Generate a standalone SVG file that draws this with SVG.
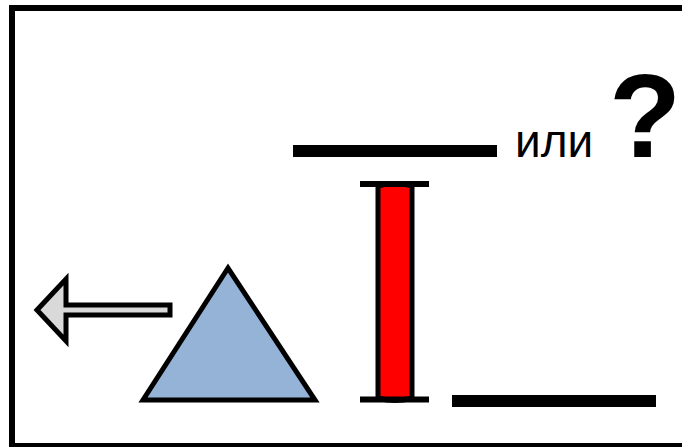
<svg xmlns="http://www.w3.org/2000/svg" width="682" height="447" viewBox="0 0 682 447">
<style>
.s{stroke:#000;stroke-width:5;stroke-linejoin:miter}
.t{font-family:"Liberation Sans",Arial,sans-serif;fill:#000}
</style>
<rect x="0" y="0" width="682" height="447" fill="#fff"/>
<g id="frame"><rect x="12" y="8" width="680" height="438" fill="none" stroke="#000" stroke-width="6"/></g>
<g id="arrow"><polygon class="s" fill="#d9d9d9" points="37,310 66,279 66,305 170,305 170,315 66,315 66,341"/></g>
<g id="triangle"><polygon class="s" fill="#95b3d7" points="228,268 143,400 315,400"/></g>
<g id="bar">
<path class="s" fill="#f00" stroke-width="4" d="M378,186 Q395,181 412,186 L412,398 Q395,403 378,398 Z"/>
<line x1="360" y1="184" x2="429" y2="184" stroke="#000" stroke-width="6"/>
<line x1="360" y1="399.5" x2="429" y2="399.5" stroke="#000" stroke-width="6"/>
</g>
<g id="levels">
<rect x="293" y="145" width="204" height="12" fill="#000"/>
<rect x="452" y="395" width="204" height="12" fill="#000"/>
</g>
<g id="labels">
<text class="t" x="515" y="157" font-size="46">или</text>
<text class="t" x="609" y="157" font-size="118" font-weight="bold">?</text>
</g>
</svg>
